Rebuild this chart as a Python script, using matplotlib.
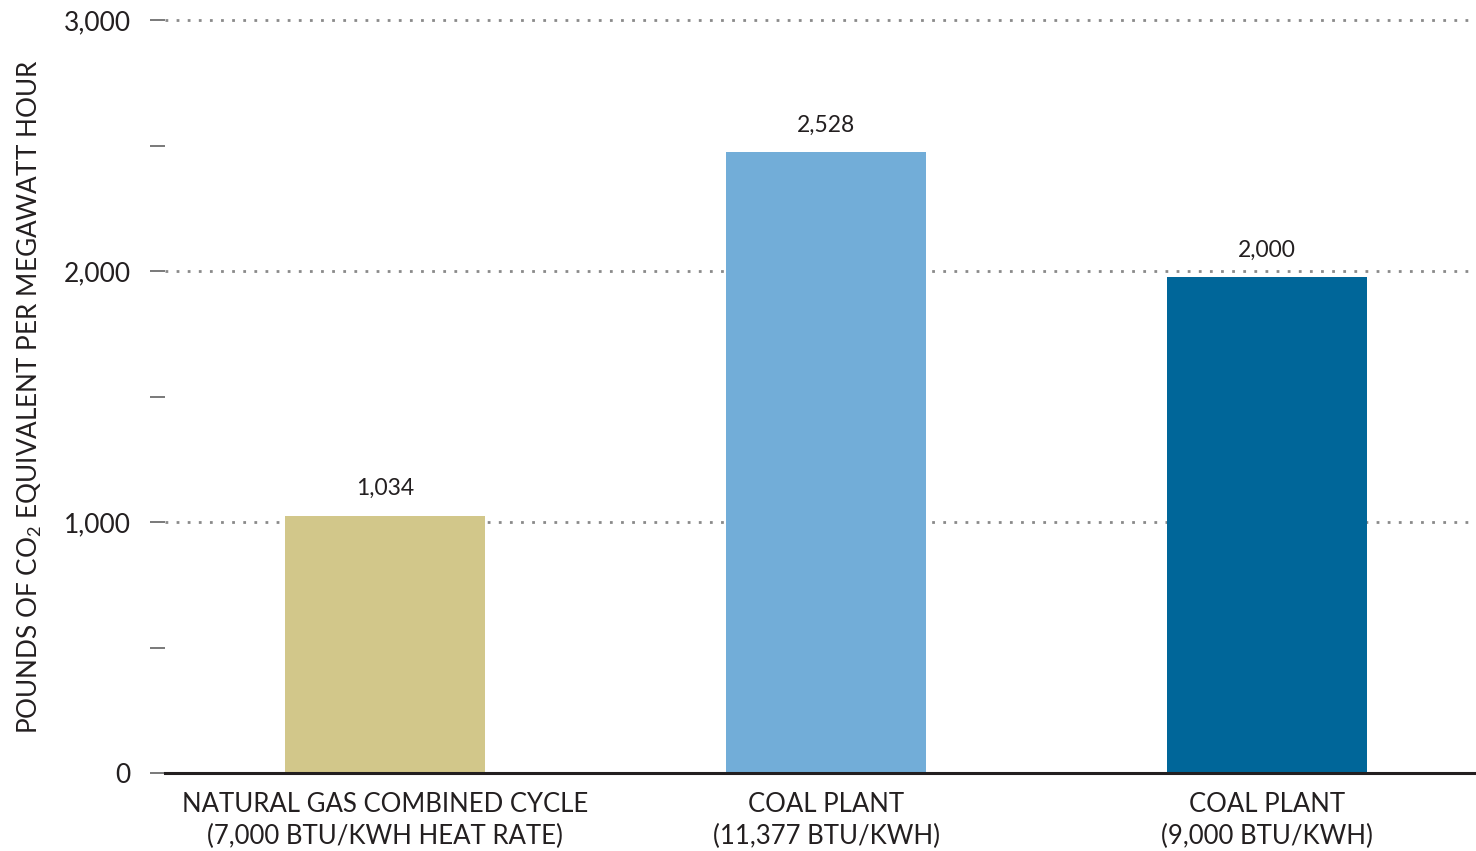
import matplotlib
matplotlib.use("Agg")
import matplotlib.pyplot as plt

# Data
categories = ["NATURAL GAS COMBINED CYCLE\n(7,000 BTU/KWH HEAT RATE)",
              "COAL PLANT\n(11,377 BTU/KWH)",
              "COAL PLANT\n(9,000 BTU/KWH)"]
bar_heights = [1024, 2474, 1976]
value_labels = ["1,034", "2,528", "2,000"]
bar_colors = ["#D2C78A", "#72ADD8", "#006699"]
y_ticks = [0, 1000, 2000, 3000]
y_tick_labels = ["0", "1,000", "2,000", "3,000"]
y_minor = [500, 1500, 2500]
y_label = "POUNDS OF CO$_2$ EQUIVALENT PER MEGAWATT HOUR"

FONT = "Lato"
plt.rcParams["font.family"] = [FONT, "DejaVu Sans"]
plt.rcParams["mathtext.fontset"] = "custom"
plt.rcParams["mathtext.rm"] = FONT
plt.rcParams["mathtext.default"] = "regular"

W, H = 1476, 851
fig = plt.figure(figsize=(W / 100, H / 100), dpi=100)
ax = fig.add_axes([165 / W, (H - 773) / H, (1476 - 165) / W, (773 - 20) / H])

x = list(range(len(categories)))
ax.bar(x, bar_heights, width=0.454, color=bar_colors, zorder=2)

for xi, h, lab in zip(x, bar_heights, value_labels):
    ax.annotate(lab, (xi, h), xytext=(0, 12), textcoords="offset points",
                ha="center", va="bottom", fontsize=16.5, color="#231F20")

ax.set_xlim(-0.5, 2.475)
ax.set_ylim(0, 3000)

for gy in [1000, 2000, 3000]:
    ax.axhline(gy, color="#8A8A8A", linewidth=2, linestyle=(0, (1, 3)),
               zorder=1, clip_on=False)

for s in ["top", "right", "left"]:
    ax.spines[s].set_visible(False)
ax.spines["bottom"].set_linewidth(2.2)
ax.spines["bottom"].set_color("#231F20")
ax.spines["bottom"].set_zorder(3)

ax.set_yticks(y_ticks)
ax.set_yticklabels(y_tick_labels)
ax.set_yticks(y_minor, minor=True)
ax.tick_params(axis="y", which="both", length=10.5, width=1.1, color="#555555",
               pad=14, labelsize=19, labelcolor="#231F20")
ax.tick_params(axis="x", length=0, pad=14, labelsize=18.5, labelcolor="#231F20")
ax.set_xticks(x)
ax.set_xticklabels(categories, linespacing=1.3)

ax.set_ylabel(y_label, fontsize=18.8, color="#231F20")
ax.yaxis.set_label_coords(-0.092, 0.5)

fig.savefig("out.png", dpi=100)
